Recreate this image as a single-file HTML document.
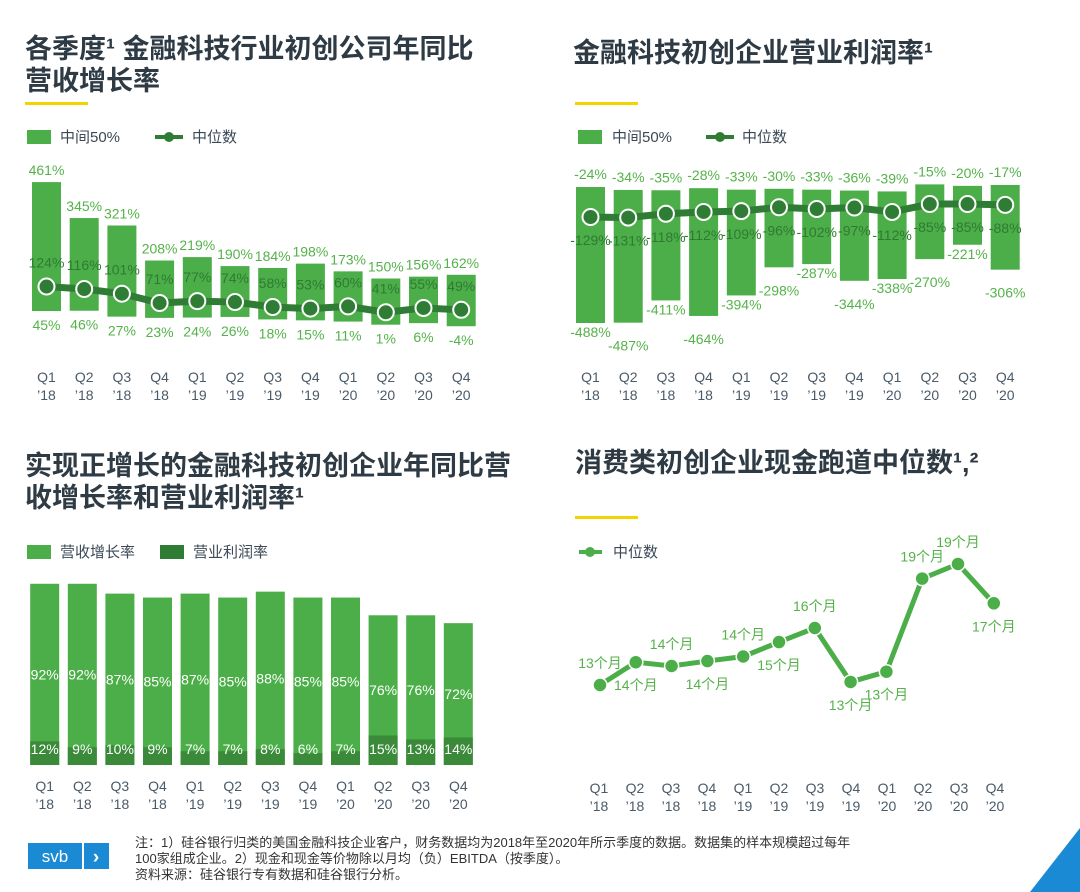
<!DOCTYPE html>
<html><head><meta charset="utf-8">
<style>
body{margin:0;background:#fff;}
svg{display:block;font-family:"Liberation Sans","Noto Sans CJK SC",sans-serif;}
.t{font-size:27px;font-weight:bold;fill:#2e3a44;}
.ax{font-size:14px;fill:#4b5a68;text-anchor:middle;}
.lg{font-size:15px;fill:#3b4855;}
.lb{font-size:14px;fill:#55b24a;text-anchor:middle;}
.ld{font-size:14px;fill:#2f7a33;text-anchor:middle;}
.lw{font-size:14px;fill:#ffffff;text-anchor:middle;}
.fn{font-size:13px;fill:#333;}
</style></head><body>
<svg id="s" width="1080" height="892" xmlns="http://www.w3.org/2000/svg">
<g>
<text class="t" x="25" y="58">各季度¹ 金融科技行业初创公司年同比</text>
<text class="t" x="25" y="90">营收增长率</text>
<rect x="25" y="102" width="63" height="3" fill="#f2d400"/>
<rect x="27" y="130" width="24" height="14" fill="#4cae48"/>
<text class="lg" x="60" y="142">中间50%</text>
<line x1="155" y1="137" x2="183" y2="137" stroke="#2f7d34" stroke-width="4"/>
<circle cx="169" cy="137" r="5" fill="#2f7d34"/>
<text class="lg" x="192" y="142">中位数</text>
</g>
<g>
<text class="t" x="573" y="62">金融科技初创企业营业利润率¹</text>
<rect x="575" y="102" width="63" height="3" fill="#f2d400"/>
<rect x="578" y="130" width="24" height="14" fill="#4cae48"/>
<text class="lg" x="612" y="142">中间50%</text>
<line x1="706" y1="137" x2="734" y2="137" stroke="#2f7d34" stroke-width="4"/>
<circle cx="720" cy="137" r="5" fill="#2f7d34"/>
<text class="lg" x="742" y="142">中位数</text>
</g>
<g>
<text class="t" x="25" y="475">实现正增长的金融科技初创企业年同比营</text>
<text class="t" x="25" y="507">收增长率和营业利润率¹</text>
<rect x="27" y="545" width="24" height="14" fill="#4cae48"/>
<text class="lg" x="60" y="557">营收增长率</text>
<rect x="160" y="545" width="24" height="14" fill="#2f7d34"/>
<text class="lg" x="193" y="557">营业利润率</text>
</g>
<g>
<text class="t" x="575" y="472">消费类初创企业现金跑道中位数¹,²</text>
<rect x="575" y="516" width="63" height="3" fill="#f2d400"/>
<line x1="579" y1="552" x2="602" y2="552" stroke="#4cae48" stroke-width="4"/>
<circle cx="590" cy="552" r="5" fill="#4cae48"/>
<text class="lg" x="613" y="557">中位数</text>
</g>
<g>
<rect x="28" y="843" width="54" height="26" fill="#1a8ad4"/>
<rect x="84" y="843" width="25" height="26" fill="#1a8ad4"/>
<text x="55" y="862" fill="#fff" font-size="17" text-anchor="middle">svb</text>
<text x="96" y="863" fill="#fff" font-size="19" font-weight="bold" text-anchor="middle">›</text>
<text class="fn" x="135" y="847">注：1）硅谷银行归类的美国金融科技企业客户，财务数据均为2018年至2020年所示季度的数据。数据集的样本规模超过每年</text>
<text class="fn" x="135" y="863">100家组成企业。2）现金和现金等价物除以月均（负）EBITDA（按季度）。</text>
<text class="fn" x="135" y="879">资料来源：硅谷银行专有数据和硅谷银行分析。</text>
<polygon points="1030,892 1080,892 1080,828" fill="#1a8ad4"/>
</g>
</svg>
<script>
const quarters=["Q1","Q2","Q3","Q4","Q1","Q2","Q3","Q4","Q1","Q2","Q3","Q4"];
const years=["’18","’18","’18","’18","’19","’19","’19","’19","’20","’20","’20","’20"];
const c1High=[461,345,321,208,219,190,184,198,173,150,156,162];
const c1Low=[45,46,27,23,24,26,18,15,11,1,6,-4];
const c1Median=[124,116,101,71,77,74,58,53,60,41,55,49];
const c2High=[-24,-34,-35,-28,-33,-30,-33,-36,-39,-15,-20,-17];
const c2Low=[-488,-487,-411,-464,-394,-298,-287,-344,-338,-270,-221,-306];
const c2Median=[-129,-131,-118,-112,-109,-96,-102,-97,-112,-85,-85,-88];
const c3Revenue=[92,92,87,85,87,85,88,85,85,76,76,72];
const c3Margin=[12,9,10,9,7,7,8,6,7,15,13,14];
const c4Runway=[13.0,14.2,14.0,14.26,14.5,15.26,16.0,13.16,13.7,18.6,19.37,17.3];
const c4Labels=["13个月","14个月","14个月","14个月","14个月","15个月","16个月","13个月","13个月","19个月","19个月","17个月"];

const S=document.getElementById('s');
function mk(tag,attrs,txt){const e=document.createElementNS('http://www.w3.org/2000/svg',tag);for(const k in attrs)e.setAttribute(k,attrs[k]);if(txt!==undefined)e.textContent=txt;S.appendChild(e);return e;}
function axis(x0,step,y1){quarters.forEach((q,i)=>{
 let a=mk('text',{class:'ax',x:x0+i*step,y:y1},q);
 
 
 let b=mk('text',{class:'ax',x:x0+i*step,y:y1+18},years[i]);
 
 });}
const bw=29;
// chart1
const x1=i=>46.5+i*37.7, y1=v=>325-0.31*v;
c1High.forEach((h,i)=>{
 let r=mk('rect',{x:x1(i)-bw/2,y:y1(h),width:bw,height:y1(c1Low[i])-y1(h),fill:'#4cae48'});
 
 
 let t=mk('text',{class:'lb',x:x1(i),y:y1(h)-7},h+'%');
 
 
 let u=mk('text',{class:'lb',x:x1(i),y:y1(c1Low[i])+19},c1Low[i]+'%');
 
 
});
let p1=mk('polyline',{points:c1Median.map((v,i)=>x1(i)+','+y1(v)).join(' '),fill:'none',stroke:'#2f7d34','stroke-width':7});


c1Median.forEach((v,i)=>{
 let t=mk('text',{class:'ld',x:x1(i),y:y1(v)-19},v+'%');
 
 
 let c=mk('circle',{cx:x1(i),cy:y1(v),r:8,fill:'#2f7d34',stroke:'#fff','stroke-width':2});
 
 
});
axis(46.5,37.7,382);
// chart2
const x2=i=>590.5+i*37.7, y2=v=>180-0.293*v, m2=v=>217-0.295*(v+129);
c2High.forEach((h,i)=>{
 let r=mk('rect',{x:x2(i)-bw/2,y:y2(h),width:bw,height:y2(c2Low[i])-y2(h),fill:'#4cae48'});
 
 
 let t=mk('text',{class:'lb',x:x2(i),y:y2(h)-8},h+'%');
 
 
 let u=mk('text',{class:'lb',x:x2(i),y:y2(c2Low[i])+14+(i%2)*14},c2Low[i]+'%');
 
 
});
let p2=mk('polyline',{points:c2Median.map((v,i)=>x2(i)+','+m2(v)).join(' '),fill:'none',stroke:'#2f7d34','stroke-width':7});


c2Median.forEach((v,i)=>{
 let t=mk('text',{class:'ld',x:x2(i),y:m2(v)+28},v+'%');
 
 
 let c=mk('circle',{cx:x2(i),cy:m2(v),r:8,fill:'#2f7d34',stroke:'#fff','stroke-width':2});
 
 
});
axis(590.5,37.7,382);
// chart3
const x3=i=>44.7+i*37.6, y3=v=>765-1.97*v;
c3Revenue.forEach((v,i)=>{
 let r=mk('rect',{x:x3(i)-bw/2,y:y3(v),width:bw,height:765-y3(v),fill:'#4cae48'});
 
 
 let d=mk('rect',{x:x3(i)-bw/2,y:y3(c3Margin[i]),width:bw,height:765-y3(c3Margin[i]),fill:'#3a8a3a'});
 
 
 let t=mk('text',{class:'lw',x:x3(i),y:(y3(v)+765)/2+5},v+'%');
 
 
 let u=mk('text',{class:'lw',x:x3(i),y:754},c3Margin[i]+'%');
 
 
});
axis(44.7,37.6,791);
// chart4
const x4=i=>600+i*35.8, y4=v=>685-19*(v-13);
const below=[0,1,0,1,0,1,0,1,1,0,0,1];
let p4=mk('polyline',{points:c4Runway.map((v,i)=>x4(i)+','+y4(v)).join(' '),fill:'none',stroke:'#4cae48','stroke-width':5});


c4Runway.forEach((v,i)=>{
 let c=mk('circle',{cx:x4(i),cy:y4(v),r:7,fill:'#4cae48',stroke:'#fff','stroke-width':1.5});
 
 
 let t=mk('text',{class:'lb',x:x4(i),y:below[i]?y4(v)+28:y4(v)-17,'font-size':15},c4Labels[i]);
 
 
});
axis(599,36,793);
</script>
</body></html>
